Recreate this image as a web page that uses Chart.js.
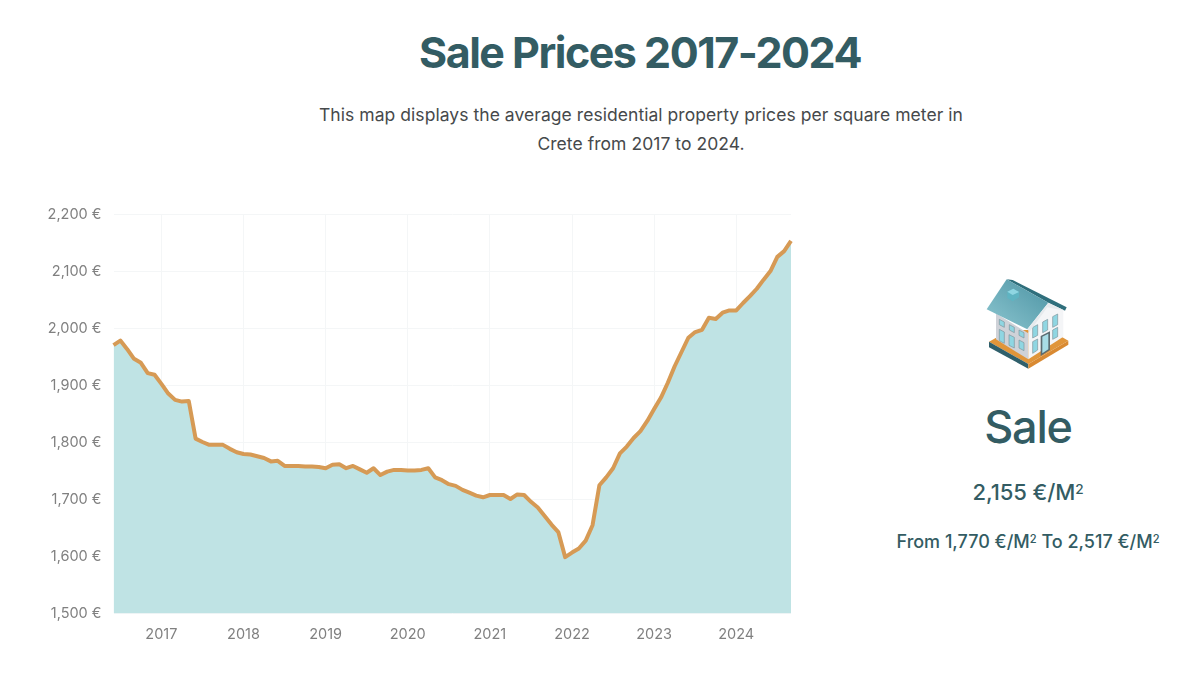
<!DOCTYPE html>
<html>
<head>
<meta charset="utf-8">
<title>Sale Prices 2017-2024</title>
<script src="https://cdn.jsdelivr.net/npm/chart.js@4"></script>
<style>
  html, body { margin: 0; padding: 0; background: #fff; }
  body { width: 1198px; height: 697px; position: relative; overflow: hidden; font-family: Inter, sans-serif; }
  .txt { position: absolute; text-align: center; white-space: nowrap; transform: translateX(-50%); }
  #title { left: 640px; top: 25px; font-size: 43px; line-height: 54px; font-weight: 700; color: #335c63; letter-spacing: -1.5px; }
  .intro { left: 641px; font-size: 17.5px; line-height: 24px; color: #46494b; letter-spacing: 0.05px; }
  #sale { left: 1028px; top: 400px; font-size: 45px; line-height: 54px; font-weight: 500; color: #335c63; letter-spacing: -1.2px; }
  #price { left: 1028px; top: 478px; font-size: 22px; line-height: 28px; font-weight: 500; color: #335c63; letter-spacing: -0.1px; }
  #range { left: 1028px; top: 530px; font-size: 18px; line-height: 24px; font-weight: 500; color: #335c63; letter-spacing: 0; }
  sup { font-size: 0.62em; line-height: 0; vertical-align: 0.42em; }
  #chartBox { position: absolute; left: 40px; top: 193.5px; width: 770px; height: 456.5px; }
  #house { position: absolute; left: 970px; top: 270px; width: 110px; height: 105px; }
</style>
</head>
<body>
<div class="txt" id="title">Sale Prices 2017-2024</div>
<div class="txt intro" style="top:103px">This map displays the average residential property prices per square meter in</div>
<div class="txt intro" style="top:132px">Crete from 2017 to 2024.</div>

<div id="chartBox"><canvas id="priceChart"></canvas></div>

<svg id="house" viewBox="0 0 330 315">
  <defs>
    <linearGradient id="roofFill" x1="0" y1="1" x2="1" y2="0">
      <stop offset="0" stop-color="#8cc6d0"/>
      <stop offset="1" stop-color="#4c93a3"/>
    </linearGradient>
  </defs>
  <polygon points="57,215 175,282 295,212 240,180 120,180" fill="#e0953a"/>
  <polygon points="57,215 57,232 175,296 175,282" fill="#2f5f6b"/>
  <polygon points="175,282 295,212 295,224 175,296" fill="#d98a32"/>
  <polygon points="78,130 175,190 175,268 78,208" fill="#cfd2d8"/>
  <polygon points="175,185 232,105 280,122 280,200 175,268" fill="#f4f5f7"/>
  <g stroke="#7d949c" stroke-width="2" fill="#8fd6e2">
    <polygon points="88,148 103,156 103,172 88,164"/>
    <polygon points="118,164 133,172 133,188 118,180"/>
    <polygon points="147,180 162,188 162,204 147,196"/>
    <polygon points="88,178 103,186 103,220 88,212"/>
    <polygon points="117,194 133,202 133,234 117,226"/>
    <polygon points="147,210 162,218 162,242 147,234"/>
    <polygon points="188,172 203,164 203,196 188,204"/>
    <polygon points="218,156 233,148 233,180 218,188"/>
    <polygon points="248,140 263,132 263,164 248,172"/>
    <polygon points="188,215 203,207 203,240 188,250"/>
    <polygon points="248,180 263,172 263,200 248,208"/>
  </g>
  <polygon points="212,198 240,184 240,240 212,258" fill="#5b6b70"/>
  <polygon points="217,200 235,191 235,238 217,250" fill="#a8dde6"/>
  <polygon points="110,28 128,30 290,112 285,122 235,98" fill="#2f6f7c"/>
  <polygon points="50,118 110,28 235,98 172,178" fill="url(#roofFill)"/>
  <polygon points="172,178 235,98 285,122 232,112 178,186" fill="#e6eaed"/>
  <polygon points="112,65 130,56 147,66 147,82 128,94 112,84" fill="#5fb4c2"/>
  <polygon points="112,65 128,75 147,66 130,56" fill="#8fd6e2"/>
</svg>

<div class="txt" id="sale">Sale</div>
<div class="txt" id="price">2,155 €/M<sup>2</sup></div>
<div class="txt" id="range">From 1,770 €/M<sup>2</sup> To 2,517 €/M<sup>2</sup></div>

<script>
const monthNames = ['Jan','Feb','Mar','Apr','May','Jun','Jul','Aug','Sep','Oct','Nov','Dec'];
const priceTicks = [1500, 1600, 1700, 1800, 1900, 2000, 2100, 2200];

// one value per month, Jun 2016 to Sep 2024
const salePrices = [
  1971, 1979, 1964, 1947, 1940, 1922, 1919,
  1903, 1886, 1875, 1872, 1873, 1807, 1801, 1796, 1796, 1796, 1789, 1783,
  1780, 1779, 1776, 1773, 1767, 1768, 1759, 1759, 1759, 1758, 1758, 1757,
  1755, 1761, 1762, 1755, 1759, 1753, 1747, 1755, 1743, 1749, 1752, 1752,
  1751, 1751, 1752, 1755, 1739, 1734, 1727, 1724, 1717, 1712, 1707, 1704,
  1708, 1708, 1708, 1701, 1709, 1708, 1696, 1686, 1671, 1656, 1643, 1599,
  1607, 1614, 1628, 1655, 1725, 1739, 1755, 1781, 1793, 1808, 1820, 1838,
  1859, 1879, 1905, 1934, 1959, 1984, 1994, 1998, 2019, 2017, 2028, 2032,
  2032, 2045, 2057, 2070, 2086, 2101, 2126, 2136, 2154
];

const monthLabels = salePrices.map((v, i) => {
  const m = 5 + i;
  return monthNames[m % 12] + ' ' + (2016 + Math.floor(m / 12));
});

new Chart(document.getElementById('priceChart'), {
  type: 'line',
  data: {
    labels: monthLabels,
    datasets: [{
      data: salePrices,
      borderColor: '#d69a55',
      borderWidth: 4,
      backgroundColor: '#bfe3e4',
      fill: 'origin',
      pointRadius: 0,
      tension: 0,
      borderJoinStyle: 'round'
    }]
  },
  options: {
    responsive: true,
    maintainAspectRatio: false,
    animation: false,
    layout: { padding: { top: 7, right: 19, left: 0, bottom: 0 } },
    plugins: { legend: { display: false }, tooltip: { enabled: false } },
    scales: {
      x: {
        offset: false,
        grid: { color: '#f4f6f7', drawTicks: false },
        border: { display: false },
        afterBuildTicks: (axis) => {
          axis.ticks = axis.ticks.filter((t) => monthLabels[t.value].startsWith('Jan'));
        },
        afterFit: (axis) => { axis.height = 37; },
        ticks: {
          autoSkip: false,
          maxRotation: 0,
          padding: 12,
          color: '#808080',
          font: { family: 'Inter', size: 14.5 },
          callback: function (value) { return this.getLabelForValue(value).split(' ')[1]; }
        }
      },
      y: {
        min: 1500,
        max: 2200,
        grid: { color: '#f4f6f7', drawTicks: false },
        border: { display: false },
        afterBuildTicks: (axis) => { axis.ticks = priceTicks.map((value) => ({ value })); },
        afterFit: (axis) => { axis.width = 73.5; },
        ticks: {
          padding: 12,
          color: '#808080',
          font: { family: 'Inter', size: 14.5 },
          callback: (value) => value.toLocaleString('en-US') + ' €'
        }
      }
    }
  }
});
</script>
</body>
</html>
